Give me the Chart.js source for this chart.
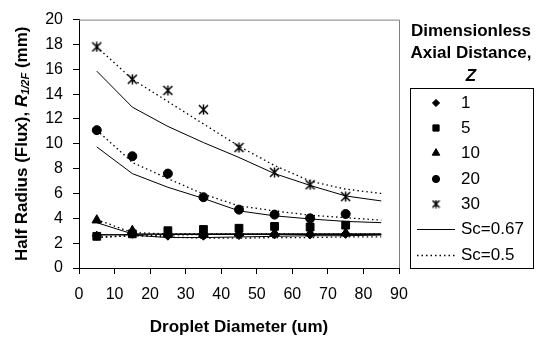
<!DOCTYPE html>
<html>
<head>
<meta charset="utf-8">
<script src="https://cdn.jsdelivr.net/npm/chart.js@4/dist/chart.umd.min.js"></script>
<style>
  html, body { margin: 0; background: #fff; }
</style>
</head>
<body>
<canvas id="myChart" width="546" height="338"></canvas>
<script>
// measured points (droplet diameter, um)
const diameters = [5, 15, 25, 35, 45, 55, 65, 75];
// model curves
const fitDiameters = [5, 15, 25, 35, 45, 55, 65, 75, 85];

const xTicks = [0, 10, 20, 30, 40, 50, 60, 70, 80, 90];
const yTicks = [0, 2, 4, 6, 8, 10, 12, 14, 16, 18, 20];

const zLabels = ["1", "5", "10", "20", "30"];
const measZ1 = [2.6, 2.75, 2.6, 2.6, 2.65, 2.7, 2.7, 2.75];
const measZ5 = [2.55, 2.75, 3.0, 3.1, 3.2, 3.35, 3.3, 3.45];
const measZ10 = [3.85, 3.0, 2.75, 2.75, 2.8, 2.8, 2.8, 2.8];
const measZ20 = [11.1, 9.0, 7.6, 5.7, 4.7, 4.3, 4.0, 4.35];
const measZ30 = [17.8, 15.2, 14.3, 12.75, 9.7, 7.7, 6.7, 5.75];

// Sc = 0.67 (solid)
const sc067Z1 = [2.7, 2.65, 2.45, 2.45, 2.5, 2.55, 2.6, 2.6, 2.65];
const sc067Z5 = [2.65, 2.7, 2.75, 2.75, 2.75, 2.75, 2.75, 2.75, 2.75];
const sc067Z10 = [3.65, 2.75, 2.7, 2.7, 2.7, 2.7, 2.7, 2.7, 2.7];
const sc067Z20 = [9.75, 7.6, 6.5, 5.6, 4.6, 4.2, 3.95, 3.75, 3.65];
const sc067Z30 = [15.85, 12.95, 11.4, 10.1, 8.9, 7.6, 6.65, 5.8, 5.4];

// Sc = 0.5 (dotted)
const sc05Z1 = [2.45, 2.6, 2.5, 2.4, 2.4, 2.45, 2.45, 2.5, 2.5];
const sc05Z5 = [2.5, 2.6, 2.65, 2.7, 2.7, 2.7, 2.7, 2.7, 2.7];
const sc05Z10 = [3.9, 2.85, 2.75, 2.75, 2.75, 2.75, 2.75, 2.75, 2.75];
const sc05Z20 = [11.1, 8.5, 7.2, 5.95, 5.0, 4.6, 4.25, 4.05, 3.85];
const sc05Z30 = [17.8, 15.2, 13.4, 11.6, 9.8, 8.25, 7.0, 6.35, 6.0];

const FONT = "'Liberation Sans', Arial, sans-serif";

// excel style asterisk marker: an x with a vertical bar
function makeAsterisk(size) {
  const c = document.createElement("canvas");
  c.width = size; c.height = size;
  const g = c.getContext("2d");
  g.strokeStyle = "#000";
  g.lineWidth = 1.5;
  const m = size / 2, r = size / 2 - 1;
  g.beginPath();
  g.moveTo(m - r, m - r); g.lineTo(m + r, m + r);
  g.moveTo(m + r, m - r); g.lineTo(m - r, m + r);
  g.moveTo(m, m - r - 0.5); g.lineTo(m, m + r + 0.5);
  g.stroke();
  return c;
}
const asterisk = makeAsterisk(11);
const asteriskSmall = makeAsterisk(9);

const toXY = (xs, ys) => ys.map((y, i) => ({ x: xs[i], y: y }));

const markerStyles = [
  { style: "rectRot", radius: 4.5 },
  { style: "rect", radius: 5.5 },
  { style: "triangle", radius: 5.5 },
  { style: "circle", radius: 4.5 },
  { style: asterisk, radius: 5.5 }
];
const measSeries = [measZ1, measZ5, measZ10, measZ20, measZ30];
const solidSeries = [sc067Z1, sc067Z5, sc067Z10, sc067Z20, sc067Z30];
const dottedSeries = [sc05Z1, sc05Z5, sc05Z10, sc05Z20, sc05Z30];

const datasets = [];
solidSeries.forEach((s, i) => {
  datasets.push({
    label: "Sc=0.67 Z=" + zLabels[i],
    data: toXY(fitDiameters, s),
    showLine: true,
    borderColor: "#000",
    borderWidth: 1,
    pointRadius: 0,
    order: 3
  });
});
dottedSeries.forEach((s, i) => {
  datasets.push({
    label: "Sc=0.5 Z=" + zLabels[i],
    data: toXY(fitDiameters, s),
    showLine: true,
    borderColor: "#000",
    borderWidth: 1.3,
    borderDash: [1.5, 3],
    pointRadius: 0,
    order: 2
  });
});
measSeries.forEach((s, i) => {
  datasets.push({
    label: zLabels[i],
    data: toXY(diameters, s),
    showLine: false,
    pointStyle: markerStyles[i].style,
    pointRadius: markerStyles[i].radius,
    backgroundColor: "#000",
    borderColor: "#000",
    borderWidth: 1,
    order: 1
  });
});

function drawRich(ctx, parts, cx, cy) {
  let total = 0;
  parts.forEach(p => { ctx.font = p.font; p.w = ctx.measureText(p.text).width; total += p.w; });
  let x = cx - total / 2;
  parts.forEach(p => {
    ctx.font = p.font;
    ctx.fillText(p.text, x, cy + (p.dy || 0));
    x += p.w;
  });
}

const decorations = {
  id: "decorations",
  afterDraw(chart) {
    const ctx = chart.ctx;
    const a = chart.chartArea;
    ctx.save();
    // grey frame top/right
    ctx.strokeStyle = "#808080";
    ctx.lineWidth = 1;
    ctx.beginPath();
    ctx.moveTo(a.left, a.top + 0.5);
    ctx.lineTo(Math.round(a.right) + 0.5, a.top + 0.5);
    ctx.lineTo(Math.round(a.right) + 0.5, a.bottom);
    ctx.stroke();

    ctx.fillStyle = "#000";
    ctx.textBaseline = "middle";
    ctx.textAlign = "left";

    // axis titles
    drawRich(ctx, [{ text: "Droplet Diameter (um)", font: "bold 17px " + FONT }],
      (a.left + a.right) / 2, 327);
    ctx.save();
    ctx.translate(22, (a.top + a.bottom) / 2);
    ctx.rotate(-Math.PI / 2);
    drawRich(ctx, [
      { text: "Half Radius (Flux), ", font: "bold 17px " + FONT },
      { text: "R", font: "italic bold 17px " + FONT },
      { text: "1/2F", font: "italic bold 11px " + FONT, dy: 4 },
      { text: " (mm)", font: "bold 17px " + FONT }
    ], 0, 0);
    ctx.restore();

    // legend
    const lx = 471;
    drawRich(ctx, [{ text: "Dimensionless", font: "bold 17px " + FONT }], lx, 31);
    drawRich(ctx, [{ text: "Axial Distance,", font: "bold 17px " + FONT }], lx, 53);
    drawRich(ctx, [{ text: "Z", font: "italic bold 17px " + FONT }], lx, 76);
    ctx.strokeStyle = "#000";
    ctx.strokeRect(410.5, 88.5, 123, 180);

    const rowY = [103, 128, 153, 179, 204, 229, 255];
    ctx.font = "17px " + FONT;
    zLabels.forEach((lab, i) => {
      const st = i === 4 ? asteriskSmall : markerStyles[i].style;
      Chart.helpers.drawPoint(ctx, {
        pointStyle: st,
        radius: i === 4 ? 4.5 : markerStyles[i].radius * 0.8,
        rotation: 0,
        borderWidth: 1
      }, 436, rowY[i]);
      ctx.fillStyle = "#000";
      ctx.strokeStyle = "#000";
      ctx.fillText(lab, 461, rowY[i]);
    });
    ctx.lineWidth = 1;
    ctx.beginPath();
    ctx.moveTo(417, rowY[5] + 0.5); ctx.lineTo(455, rowY[5] + 0.5);
    ctx.stroke();
    ctx.setLineDash([1.5, 3]);
    ctx.lineWidth = 1.3;
    ctx.beginPath();
    ctx.moveTo(417, rowY[6] + 0.5); ctx.lineTo(455, rowY[6] + 0.5);
    ctx.stroke();
    ctx.setLineDash([]);
    ctx.fillText("Sc=0.67", 461, rowY[5]);
    ctx.fillText("Sc=0.5", 461, rowY[6]);
    ctx.restore();
  }
};

new Chart(document.getElementById("myChart"), {
  type: "scatter",
  data: { datasets },
  options: {
    responsive: false,
    animation: false,
    layout: { padding: { left: 0, top: 14, right: 147, bottom: 0 } },
    plugins: { legend: { display: false }, tooltip: { enabled: false } },
    elements: { line: { tension: 0 } },
    scales: {
      x: {
        type: "linear",
        min: 0, max: 90,
        afterBuildTicks: s => { s.ticks = xTicks.map(v => ({ value: v })); },
        afterFit: s => { s.height = 70; },
        ticks: { color: "#000", font: { family: FONT, size: 16 }, padding: 11, maxRotation: 0 },
        grid: { drawOnChartArea: false, drawTicks: true, tickLength: 6, tickColor: "#000" },
        border: { color: "#000", width: 1 }
      },
      y: {
        type: "linear",
        min: 0, max: 20,
        afterBuildTicks: s => { s.ticks = yTicks.map(v => ({ value: v })); },
        afterFit: s => { s.width = 79; },
        ticks: { color: "#000", font: { family: FONT, size: 16 }, padding: 10 },
        grid: { drawOnChartArea: false, drawTicks: true, tickLength: 6, tickColor: "#000" },
        border: { color: "#000", width: 1 }
      }
    }
  },
  plugins: [decorations]
});
</script>
</body>
</html>
